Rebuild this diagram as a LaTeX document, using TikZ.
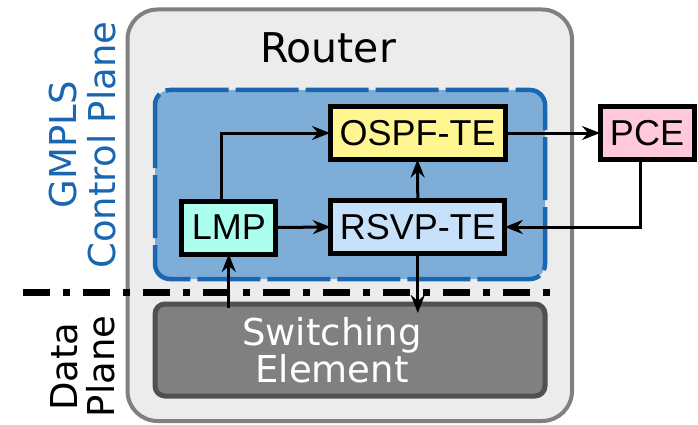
\documentclass[tikz,border=0pt]{standalone}
\usepackage{fontspec}
\setmainfont{DejaVu Sans}
\newfontfamily\arialfont{Liberation Sans}
\usetikzlibrary{arrows.meta}
\definecolor{routerfill}{RGB}{236,236,236}
\definecolor{routerline}{RGB}{128,128,128}
\definecolor{ctrlfill}{RGB}{126,174,216}
\definecolor{ctrlblue}{RGB}{26,102,176}
\definecolor{lmpfill}{RGB}{170,255,238}
\definecolor{ospffill}{RGB}{255,245,145}
\definecolor{rsvpfill}{RGB}{200,225,250}
\definecolor{pcefill}{RGB}{255,200,220}
\definecolor{swfill}{RGB}{128,128,128}
\definecolor{swline}{RGB}{80,80,80}
\begin{document}
\begin{tikzpicture}[x=1pt,y=-1pt,
  proto/.style={draw=black,line width=5pt,inner sep=0pt,outer sep=0pt,minimum height=53pt,font=\arialfont\fontsize{36}{36}\selectfont},
  link/.style={line width=3pt,-{Stealth[length=18pt,width=14pt,inset=6pt]}}]
\useasboundingbox (0,0) rectangle (698,425);
\draw[routerline,fill=routerfill,line width=4pt,rounded corners=30pt] (127.5,9.5) rectangle (572,421);
\node[font=\fontsize{41}{41}\selectfont,anchor=base] (routerlabel) at (328,63) {Router};
\draw[ctrlblue,fill=ctrlfill,line width=4.5pt,rounded corners=15pt,dash pattern=on 63pt off 7pt] (155,90) rectangle (545,279);
\node[rotate=90,align=center,text=ctrlblue,font=\fontsize{37}{39}\selectfont] (ctrllabel) at (82.5,145) {GMPLS\\Control Plane};
\node[rotate=90,align=center,font=\fontsize{37}{37}\selectfont] (datalabel) at (83,366.5) {Data\\Plane};
\draw[line width=7pt,dash pattern=on 27pt off 13pt on 7pt off 13pt] (23,292)--(555,292);
\node[draw=swline,fill=swfill,line width=5pt,rounded corners=10pt,minimum width=390pt,minimum height=92pt] (sw) at (350,350) {};
\node[text=white,align=center,font=\fontsize{37}{37}\selectfont] (swlabel) at (332,350.5) {Switching\\Element};
\node[proto,fill=ospffill,minimum width=175pt] (ospf) at (417.5,133) {OSPF-TE};
\node[proto,fill=rsvpfill,minimum width=174pt] (rsvp) at (417.8,227) {RSVP-TE};
\node[proto,fill=pcefill,minimum width=94pt] (pce) at (647,133) {PCE};
\node[proto,fill=lmpfill,minimum width=94pt] (lmp) at (228.8,227.5) {LMP};
\coordinate (swup) at (lmp.south |- 0,308);
\coordinate (swdown) at (rsvp.south |- 0,313);
\draw[link] ([xshift=-7pt]lmp.north) |- (ospf.west);
\draw[link] (lmp.east)--(rsvp.west);
\draw[link] (rsvp.north)--(ospf.south);
\draw[link] (ospf.east)--(pce.west);
\draw[link] ([xshift=-7pt]pce.south) |- (rsvp.east);
\draw[link] (swup)--(lmp.south);
\draw[link] (rsvp.south)--(swdown);
\end{tikzpicture}
\end{document}
